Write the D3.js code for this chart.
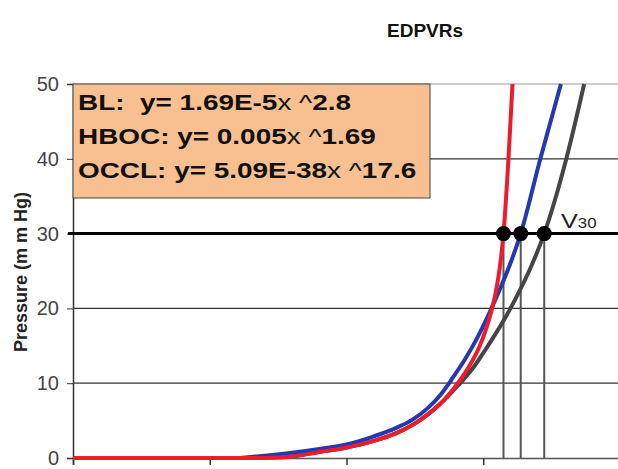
<!DOCTYPE html>
<html>
<head>
<meta charset="utf-8">
<script src="https://cdn.jsdelivr.net/npm/d3@7"></script>
<style>
  body { margin: 0; background: #fff; }
  svg { font-family: "Liberation Sans", Arial, sans-serif; }
</style>
</head>
<body>
<div id="chart"></div>
<script>
// values (volume, pressure); BL below 10 mmHg hides under OCCL
const blX   = [80, 90, 100, 110, 118, 124.5, 130, 135, 139, 142.8, 147, 151, 155, 159.5, 163.5, 167.5, 172.3, 180.3, 186.9];
const blY   = [0.2, 0.8, 1.4, 2.3, 3.3, 4.5, 5.9, 7.5, 9.0, 10.5, 12.4, 14.6, 16.9, 19.7, 22.5, 25.6, 30, 39.9, 50];
const hbocX = [61, 70, 80, 90, 100, 110, 118, 124, 129.5, 134.5, 139, 143.5, 148, 152, 156, 160, 163.7, 170.8, 178.4];
const hbocY = [0, 0.3, 0.7, 1.2, 1.8, 2.9, 4.0, 5.1, 6.6, 8.5, 10.8, 13.3, 16.2, 19.2, 22.5, 26.1, 30, 39.9, 50];
const occlX = [0, 70, 80, 90, 100, 110, 118, 124.5, 130, 135, 139, 142.5, 145.7, 148.5, 150.8, 152.8, 154.6, 156.1, 157.4, 159.2, 160.7];
const occlY = [0, 0, 0.2, 0.8, 1.4, 2.3, 3.3, 4.5, 5.9, 7.5, 9.2, 10.9, 12.8, 14.8, 17.0, 19.4, 22.2, 25.6, 30, 39.9, 50];
const v30X  = [157.4, 163.7, 172.3]; // where each curve hits 30 mmHg
const v30P  = 30;
const yTicks = [0, 10, 20, 30, 40, 50];
const xTicks = [0, 50, 100, 150, 200];

const W = 618, H = 469;
const svg = d3.select("#chart").append("svg").attr("width", W).attr("height", H);

const x = d3.scaleLinear().domain([0, 200]).range([73, 620]);
const y = d3.scaleLinear().domain([0, 50]).range([458, 84]);

// title
svg.append("text").attr("x", 425).attr("y", 37).attr("text-anchor", "middle")
  .style("font-size", "19px").style("font-weight", "bold").attr("fill", "#111").text("EDPVRs");

// grid lines
svg.append("g").selectAll("line").data(yTicks.filter(d => d > 0 && d !== v30P)).enter().append("line")
  .attr("x1", x(0)).attr("x2", W).attr("y1", d => y(d)).attr("y2", d => y(d))
  .attr("stroke", d => d === 50 ? "#999" : "#333").attr("stroke-width", 1.2);

// axes
const yAxis = svg.append("g").attr("transform", `translate(${x(0)},0)`)
  .call(d3.axisLeft(y).tickValues(yTicks).tickSize(6).tickPadding(8));
yAxis.select(".domain").attr("stroke", "#333").attr("stroke-width", 1.5);
yAxis.selectAll(".tick line").attr("stroke", "#333");
yAxis.selectAll("text").style("font-size", "20px")
  .style("font-family", "'Liberation Sans Narrow', 'Liberation Sans', sans-serif").attr("fill", "#444");

const xAxis = svg.append("g").attr("transform", `translate(0,${y(0)})`)
  .call(d3.axisBottom(x).tickValues(xTicks).tickSize(7).tickFormat(""));
xAxis.select(".domain").attr("stroke", "#555").attr("stroke-width", 1.5);
xAxis.selectAll(".tick line").attr("stroke", "#333").attr("stroke-width", 1.5);

svg.append("text").attr("transform", "translate(27,272) rotate(-90)")
  .attr("text-anchor", "middle").style("font-size", "18px").style("font-weight", "bold")
  .attr("fill", "#222").text("Pressure (m m Hg)");

// vertical V30 drops
svg.append("g").selectAll("line").data(v30X).enter().append("line")
  .attr("x1", d => x(d)).attr("x2", d => x(d)).attr("y1", y(v30P)).attr("y2", y(0))
  .attr("stroke", "#555").attr("stroke-width", 2);

// curves
const line = d3.line().x(d => x(d[0])).y(d => y(d[1])).curve(d3.curveMonotoneX);
const series = [
  { xs: blX, ys: blY, color: "#454545" },
  { xs: hbocX, ys: hbocY, color: "#2438b0" },
  { xs: occlX, ys: occlY, color: "#ec1c2a" }
];
svg.append("g").selectAll("path").data(series).enter().append("path")
  .attr("d", s => line(s.xs.map((v, i) => [v, s.ys[i]])))
  .attr("fill", "none").attr("stroke", s => s.color).attr("stroke-width", 4)
  .attr("stroke-linejoin", "round");

// 30 mmHg line
svg.append("line").attr("x1", x(0) - 5).attr("x2", W).attr("y1", y(v30P)).attr("y2", y(v30P))
  .attr("stroke", "#000").attr("stroke-width", 3);

svg.append("g").selectAll("circle").data(v30X).enter().append("circle")
  .attr("cx", d => x(d)).attr("cy", y(v30P)).attr("r", 7.5).attr("fill", "#000");

const vl = svg.append("text").attr("transform", "translate(561,228) scale(1.2,1)").attr("fill", "#222");
vl.append("tspan").style("font-size", "21px").text("V");
vl.append("tspan").style("font-size", "14px").text("30");

// equation box
svg.append("rect").attr("x", x(0)).attr("y", y(50)).attr("width", 357).attr("height", 114)
  .attr("fill", "#f8c090").attr("stroke", "#444").attr("stroke-width", 1);
const eqs = [
  ["BL:  y= 1.69E-5", "x ^", "2.8"],
  ["HBOC: y= 0.005", "x ^", "1.69"],
  ["OCCL: y= 5.09E-38", "x ^", "17.6"]
];
eqs.forEach((e, i) => {
  const t = svg.append("text").attr("transform", `translate(78,${110 + i * 34}) scale(1.27,1)`)
    .attr("xml:space", "preserve").style("white-space", "pre")
    .style("font-size", "22px").attr("fill", "#111");
  t.append("tspan").style("font-weight", "bold").text(e[0]);
  t.append("tspan").text(e[1]);
  t.append("tspan").style("font-weight", "bold").text(e[2]);
});
</script>
</body>
</html>
